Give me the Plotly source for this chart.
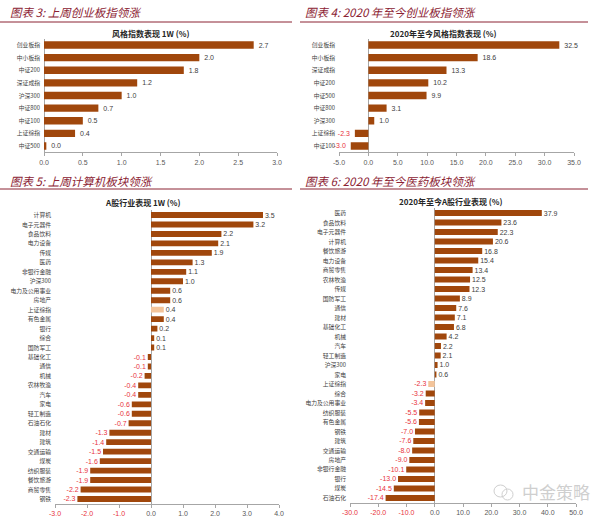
import plotly.graph_objects as go

W, H = 600, 520

def px(x):
    return x / W

def py(y):
    return 1 - y / H

BAR = "#A0470C"
LIGHT = "#F3C49A"
NEG = "#E8323C"
POS = "#404040"
HEAD = "#8B2232"
AXC = "#A6A6A6"
TICKC = "#595959"
FONT = "Noto Sans CJK SC"
NB = "\u00a0"

# ---- Panel 3: 上周创业板指领涨 ----
p3_title = "风格指数表现 1W (%)"
p3_cats = ["创业板指", "中小板指", "中证200", "深证成指", "沪深300", "中证800", "中证100", "上证综指", "中证500"]
p3_vals = [2.7, 2.0, 1.8, 1.2, 1.0, 0.7, 0.5, 0.4, 0.03]
p3_ticks = [0.0, 0.5, 1.0, 1.5, 2.0, 2.5, 3.0]

# ---- Panel 4: 2020 年至今创业板指领涨 ----
p4_title = "2020年至今风格指数表现 (%)"
p4_cats = ["创业板指", "中小板指", "深证成指", "中证200", "中证500", "中证800", "沪深300", "上证综指", "中证100"]
p4_vals = [32.5, 18.6, 13.3, 10.2, 9.9, 3.1, 1.0, -2.3, -3.0]
p4_ticks = [-5.0, 0.0, 5.0, 10.0, 15.0, 20.0, 25.0, 30.0, 35.0]

# ---- Panel 5: 上周计算机板块领涨 ----
p5_title = "A股行业表现 1W (%)"
p5_cats = ["计算机", "电子元器件", "食品饮料", "电力设备", "传媒", "医药", "非银行金融", "沪深300",
           "电力及公用事业", "房地产", "上证综指", "有色金属", "银行", "综合", "国防军工", "基础化工",
           "通信", "机械", "农林牧渔", "汽车", "家电", "轻工制造", "石油石化", "建材", "建筑",
           "交通运输", "煤炭", "纺织服装", "餐饮旅游", "商贸零售", "钢铁"]
p5_vals = [3.5, 3.2, 2.2, 2.1, 1.9, 1.3, 1.1, 1.0, 0.6, 0.6, 0.4, 0.4, 0.2, 0.1, 0.1, -0.1,
           -0.1, -0.2, -0.4, -0.4, -0.6, -0.6, -0.7, -1.3, -1.4, -1.5, -1.6, -1.9, -1.9, -2.2, -2.3]
p5_ticks = [-3.0, -2.0, -1.0, 0.0, 1.0, 2.0, 3.0, 4.0]

# ---- Panel 6: 2020 年至今医药板块领涨 ----
p6_title = "2020年至今A股行业表现 (%)"
p6_cats = ["医药", "食品饮料", "电子元器件", "计算机", "餐饮旅游", "电力设备", "商贸零售", "农林牧渔",
           "传媒", "国防军工", "通信", "建材", "基础化工", "机械", "汽车", "轻工制造", "沪深300", "家电",
           "上证综指", "综合", "电力及公用事业", "纺织服装", "有色金属", "钢铁", "建筑", "交通运输",
           "房地产", "非银行金融", "银行", "煤炭", "石油石化"]
p6_vals = [37.9, 23.6, 22.3, 20.6, 16.8, 15.4, 13.4, 12.5, 12.3, 8.9, 7.6, 7.1, 6.8, 4.2, 2.2, 2.1,
           1.0, 0.6, -2.3, -3.2, -3.4, -5.5, -5.6, -7.0, -7.6, -8.0, -9.0, -10.1, -13.0, -14.5, -17.4]
p6_ticks = [-30.0, -20.0, -10.0, 0.0, 10.0, 20.0, 30.0, 40.0, 50.0]

headers = ["图表 3: 上周创业板指领涨", "图表 4: 2020 年至今创业板指领涨",
           "图表 5: 上周计算机板块领涨", "图表 6: 2020 年至今医药板块领涨"]
highlight = "上证综指"

fig = go.Figure()

panels = [
    (p3_cats, p3_vals, p3_ticks, p3_title, 44, 277, 38.7, 152.3, False, False, 0.58, 150, 34),
    (p4_cats, p4_vals, p4_ticks, p4_title, 339, 574, 38.7, 152.3, False, False, 0.58, 443, 34),
    (p5_cats, p5_vals, p5_ticks, p5_title, 55, 279, 210.3, 503.7, True, True, 0.62, 143, 203),
    (p6_cats, p6_vals, p6_ticks, p6_title, 350, 576, 208.3, 502.7, True, True, 0.62, 451, 202),
]

for i, (cats, vals, ticks, title, x0, x1, yt, yb, redneg, hl, bw, tx, ty) in enumerate(panels):
    n = i + 1
    xa = "x" if n == 1 else f"x{n}"
    ya = "y" if n == 1 else f"y{n}"
    colors = [LIGHT if (hl and c == highlight) else BAR for c in cats]
    tcol = [NEG if v < 0 else POS for v in vals]
    labels = [(f"{v:.1f}" + NB) if v < 0 else (NB + f"{v:.1f}") for v in vals]
    fig.add_trace(go.Bar(
        y=cats, x=vals, orientation="h", width=bw,
        marker=dict(color=colors, line_width=0),
        text=labels, texttemplate="%{text}", textposition="outside", constraintext="none",
        textfont=dict(size=7, color=tcol, family="Arial"),
        cliponaxis=False, xaxis=xa, yaxis=ya, hoverinfo="skip", showlegend=False,
    ))
    ticktext = []
    for t in ticks:
        s = f"{t:.1f}"
        if redneg and t < 0:
            s = f"<span style='color:{NEG}'>{s}</span>"
        ticktext.append(s)
    xkey = "xaxis" if n == 1 else f"xaxis{n}"
    ykey = "yaxis" if n == 1 else f"yaxis{n}"
    fig.update_layout({
        xkey: dict(domain=[px(x0), px(x1)], range=[ticks[0], ticks[-1]], anchor=ya,
                   tickvals=ticks, ticktext=ticktext, showgrid=False, automargin=False,
                   showline=True, linecolor=AXC, linewidth=1,
                   zeroline=True, zerolinecolor=AXC, zerolinewidth=1,
                   ticks="outside", ticklen=3, tickcolor=AXC,
                   tickfont=dict(size=7, color=TICKC, family="Arial"), fixedrange=True),
        ykey: dict(domain=[py(yb), py(yt)], anchor=xa, autorange="reversed", automargin=False,
                   type="category", showgrid=False, showline=False, zeroline=False,
                   ticks="", tickfont=dict(size=5.8, color="#404040", family=FONT),
                   ticklabelstandoff=3, fixedrange=True),
    })
    fig.add_annotation(x=px(tx), y=py(ty), xref="paper", yref="paper", text=f"<b>{title}</b>",
                       showarrow=False, font=dict(size=8, color="#262626", family=FONT),
                       xanchor="center", yanchor="middle")

# headers and rule lines
hdr_pos = [(8, 12, 0, 292, 22), (303, 12, 300, 588, 22), (8, 181, 0, 292, 189), (303, 181, 300, 588, 189)]
for h, (hx, hy, lx0, lx1, ly) in zip(headers, hdr_pos):
    fig.add_annotation(x=px(hx), y=py(hy), xref="paper", yref="paper", text=f"<i>{h}</i>",
                       showarrow=False, xanchor="left", yanchor="middle",
                       font=dict(size=11.5, color=HEAD, family=FONT))
    fig.add_shape(type="line", xref="paper", yref="paper", x0=px(lx0), x1=px(lx1),
                  y0=py(ly), y1=py(ly), line=dict(color=HEAD, width=1))

# watermark
fig.add_annotation(x=px(556), y=py(491), xref="paper", yref="paper", text="中金策略",
                   showarrow=False, font=dict(size=17, color="#CFCFCF", family=FONT),
                   xanchor="center", yanchor="middle")
fig.add_shape(type="circle", xref="paper", yref="paper", x0=px(494), x1=px(507), y0=py(497), y1=py(485),
              line=dict(color="#CFCFCF", width=1))
fig.add_shape(type="circle", xref="paper", yref="paper", x0=px(502), x1=px(513), y0=py(500), y1=py(489),
              line=dict(color="#CFCFCF", width=1))

fig.update_layout(width=W, height=H, margin=dict(l=0, r=0, t=0, b=0, autoexpand=False),
                  paper_bgcolor="white", plot_bgcolor="white", bargap=0.4,
                  font=dict(family=FONT))

fig.write_html("out.html", config=dict(displayModeBar=False, staticPlot=True),
               post_script="document.body.style.margin='0';document.body.style.padding='0';"
                           "document.body.style.overflow='hidden';")
